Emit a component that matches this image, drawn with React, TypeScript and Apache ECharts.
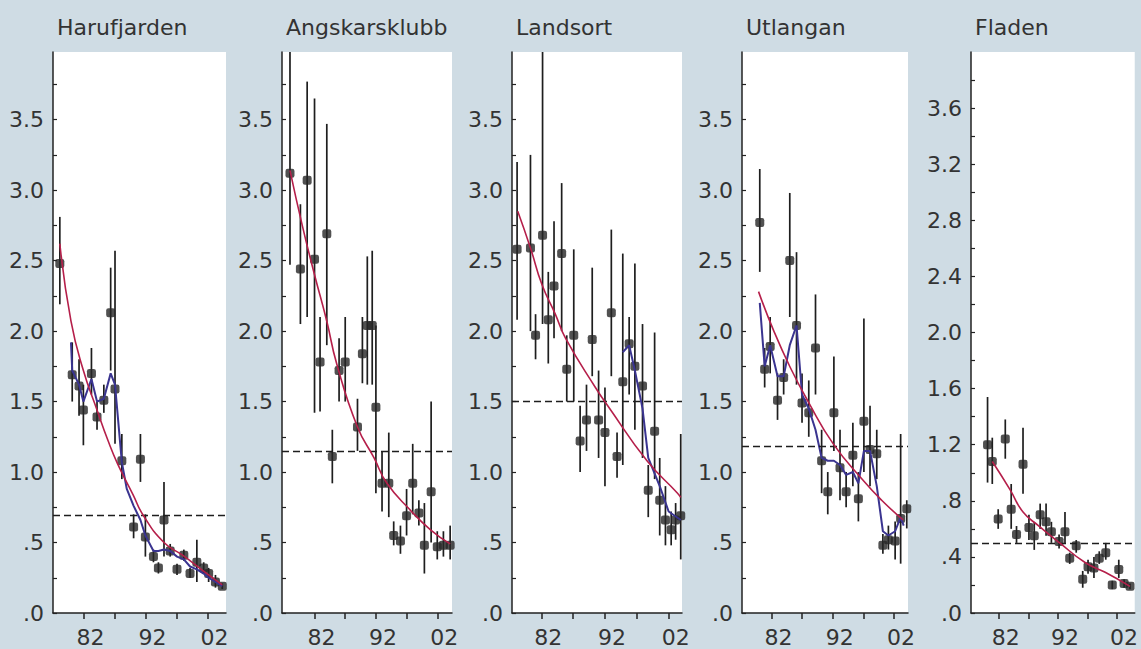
import React, { useEffect, useRef } from "react";
import * as echarts from "echarts";

// ---------- Tick labels ----------
const yTickValsMain = [0, 0.25, 0.5, 0.75, 1, 1.25, 1.5, 1.75, 2, 2.25, 2.5, 2.75, 3, 3.25, 3.5, 3.75];
const yLabelValsMain = [0, 0.5, 1, 1.5, 2, 2.5, 3, 3.5];
const yLabelTextsMain = [".0", ".5", "1.0", "1.5", "2.0", "2.5", "3.0", "3.5"];
const yTickValsFladen = [0, 0.2, 0.4, 0.6, 0.8, 1, 1.2, 1.4, 1.6, 1.8, 2, 2.2, 2.4, 2.6, 2.8, 3, 3.2, 3.4, 3.6, 3.8];
const yLabelValsFladen = [0, 0.4, 0.8, 1.2, 1.6, 2, 2.4, 2.8, 3.2, 3.6];
const yLabelTextsFladen = [".0", ".4", ".8", "1.2", "1.6", "2.0", "2.4", "2.8", "3.2", "3.6"];
const xTickYears = [1982, 1987, 1992, 1997, 2002];
const xLabelYears = [1982, 1992, 2002];
const xLabelTexts = ["82", "92", "02"];

// ---------- Harufjarden ----------
const haruYears = [1978.2, 1980.2, 1981.3, 1982.0, 1983.3, 1984.2, 1985.3, 1986.4, 1987.1, 1988.2, 1990.1, 1991.2, 1992.0, 1993.3, 1994.1, 1995.0, 1996.0, 1997.1, 1998.2, 1999.2, 2000.3, 2001.4, 2002.2, 2003.3, 2004.4];
const haruMean = [2.48, 1.69, 1.61, 1.44, 1.70, 1.39, 1.51, 2.13, 1.59, 1.08, 0.61, 1.09, 0.54, 0.40, 0.32, 0.66, 0.44, 0.31, 0.41, 0.28, 0.36, 0.32, 0.28, 0.22, 0.19];
const haruLow = [2.19, 1.50, 1.40, 1.19, 1.55, 1.30, 1.42, 1.72, 1.20, 0.95, 0.53, 0.93, 0.40, 0.36, 0.28, 0.40, 0.40, 0.27, 0.37, 0.25, 0.22, 0.28, 0.22, 0.18, 0.17];
const haruHigh = [2.81, 1.92, 1.80, 1.62, 1.88, 1.50, 1.62, 2.45, 2.57, 1.27, 0.70, 1.27, 0.70, 0.45, 0.36, 0.93, 0.49, 0.35, 0.45, 0.32, 0.52, 0.36, 0.32, 0.27, 0.21];
const haruTrendYears = [1978.2, 1980, 1982, 1984.2, 1986, 1987.5, 1990, 1991.7, 1995, 1998, 2001, 2004.4];
const haruTrend = [2.62, 2.07, 1.72, 1.44, 1.22, 1.06, 0.84, 0.69, 0.50, 0.41, 0.31, 0.20];
const haruSmoothYears = [1980.0, 1980.2, 1981.3, 1982.0, 1983.3, 1984.2, 1985.3, 1986.4, 1987.1, 1988.2, 1989.0, 1990.1, 1991.2, 1992.0, 1993.3, 1994.1, 1995.0, 1996.0, 1997.1, 1998.2, 1999.2, 2000.3, 2001.4, 2002.2, 2003.3, 2004.4];
const haruSmooth = [1.92, 1.72, 1.62, 1.50, 1.66, 1.50, 1.52, 1.70, 1.62, 1.07, 0.88, 0.76, 0.66, 0.55, 0.44, 0.44, 0.45, 0.44, 0.40, 0.38, 0.33, 0.31, 0.28, 0.25, 0.22, 0.19];
const haruLevel = 0.69;

// ---------- Angskarsklubb ----------
const angsYears = [1978.0, 1979.7, 1980.8, 1982.0, 1982.9, 1984.0, 1984.9, 1986.0, 1987.0, 1989.0, 1989.8, 1990.6, 1991.4, 1992.0, 1993.0, 1994.1, 1994.9, 1996.0, 1997.0, 1998.0, 1999.0, 1999.9, 2001.0, 2002.0, 2003.0, 2004.1];
const angsMean = [3.12, 2.44, 3.07, 2.51, 1.78, 2.69, 1.11, 1.72, 1.78, 1.32, 1.84, 2.04, 2.04, 1.46, 0.92, 0.92, 0.55, 0.51, 0.69, 0.92, 0.71, 0.48, 0.86, 0.47, 0.48, 0.48];
const angsLow = [2.47, 2.05, 2.10, 1.42, 1.43, 1.90, 0.92, 1.50, 1.50, 1.15, 1.63, 1.62, 1.62, 0.85, 0.72, 0.68, 0.48, 0.42, 0.55, 0.70, 0.62, 0.28, 0.50, 0.38, 0.40, 0.38];
const angsHigh = [4.50, 2.90, 3.77, 3.65, 2.10, 3.47, 1.30, 1.95, 2.10, 1.52, 2.10, 2.53, 2.57, 2.04, 1.15, 1.28, 0.65, 0.62, 0.88, 1.20, 0.80, 0.78, 1.50, 0.58, 0.58, 0.62];
const angsTrendYears = [1978.0, 1980, 1982, 1984, 1985.6, 1989, 1991.7, 1993.8, 1997.6, 2000.9, 2004.1];
const angsTrend = [3.14, 2.75, 2.40, 2.07, 1.77, 1.32, 1.10, 0.92, 0.73, 0.59, 0.49];
const angsLevel = 1.15;

// ---------- Landsort ----------
const landYears = [1978.2, 1980.3, 1981.1, 1982.2, 1983.1, 1984.0, 1985.2, 1986.0, 1987.1, 1988.1, 1989.1, 1990.0, 1991.0, 1992.0, 1993.0, 1993.9, 1994.8, 1995.8, 1996.7, 1997.9, 1998.8, 1999.8, 2000.6, 2001.5, 2002.4, 2003.1, 2003.9];
const landMean = [2.58, 2.59, 1.97, 2.68, 2.08, 2.32, 2.55, 1.73, 1.97, 1.22, 1.37, 1.94, 1.37, 1.28, 2.13, 1.11, 1.64, 1.91, 1.75, 1.61, 0.87, 1.29, 0.80, 0.66, 0.59, 0.66, 0.69];
const landLow = [2.08, 2.00, 1.80, 2.05, 1.77, 1.95, 2.00, 1.50, 1.50, 1.00, 1.15, 1.68, 1.10, 0.90, 1.68, 0.96, 1.05, 1.55, 1.30, 1.10, 0.68, 0.95, 0.55, 0.48, 0.48, 0.52, 0.38];
const landHigh = [3.20, 3.25, 2.12, 4.50, 2.42, 2.78, 3.05, 1.97, 2.58, 1.47, 1.62, 2.45, 1.72, 1.60, 2.72, 1.28, 2.55, 2.10, 2.48, 2.05, 1.05, 1.99, 1.10, 0.90, 0.72, 0.78, 1.27];
const landTrendYears = [1978.3, 1980.3, 1982.1, 1984.2, 1985.8, 1990.5, 1992.6, 1998.6, 2003.4, 2003.9];
const landTrend = [2.85, 2.59, 2.33, 2.12, 1.95, 1.60, 1.46, 1.08, 0.85, 0.82];
const landSmoothYears = [1994.8, 1995.8, 1996.7, 1997.9, 1998.8, 2000.6, 2002.0, 2003.9];
const landSmooth = [1.85, 1.90, 1.72, 1.45, 1.10, 0.90, 0.72, 0.66];
const landLevel = 1.5;

// ---------- Utlangan ----------
const utlaYears = [1980.1, 1980.9, 1981.8, 1983.0, 1984.0, 1985.0, 1986.1, 1987.0, 1988.1, 1989.2, 1990.2, 1991.2, 1992.2, 1993.2, 1994.2, 1995.3, 1996.2, 1997.1, 1998.1, 1999.2, 2000.2, 2001.1, 2002.2, 2003.1, 2004.1];
const utlaMean = [2.77, 1.73, 1.89, 1.51, 1.67, 2.50, 2.04, 1.49, 1.42, 1.88, 1.08, 0.86, 1.42, 1.03, 0.86, 1.12, 0.81, 1.36, 1.16, 1.13, 0.48, 0.52, 0.51, 0.67, 0.74];
const utlaLow = [2.42, 1.60, 1.70, 1.37, 1.55, 2.10, 1.62, 1.35, 1.25, 1.55, 0.85, 0.70, 1.15, 0.80, 0.75, 0.90, 0.65, 1.00, 0.90, 0.95, 0.42, 0.45, 0.38, 0.35, 0.60];
const utlaHigh = [3.15, 1.88, 2.10, 1.70, 1.80, 2.98, 2.56, 1.70, 1.65, 2.26, 1.30, 1.00, 1.82, 1.30, 1.00, 1.35, 1.00, 2.09, 1.47, 1.30, 0.56, 0.62, 0.65, 1.27, 0.80];
const utlaTrendYears = [1979.9, 1982.4, 1985.1, 1988.0, 1992.1, 1997.0, 2000.0, 2003.5];
const utlaTrend = [2.28, 2.00, 1.74, 1.50, 1.20, 0.94, 0.80, 0.66];
const utlaSmoothYears = [1980.1, 1980.9, 1981.8, 1983.0, 1984.0, 1985.0, 1986.1, 1987.0, 1988.1, 1989.2, 1990.2, 1991.2, 1992.2, 1993.2, 1994.2, 1995.3, 1996.2, 1997.1, 1998.1, 1999.2, 2000.2, 2001.1, 2002.2, 2003.1, 2003.6];
const utlaSmooth = [2.20, 1.75, 1.90, 1.68, 1.68, 1.90, 2.04, 1.55, 1.45, 1.30, 1.10, 1.08, 1.08, 1.05, 0.98, 1.00, 0.92, 1.15, 1.15, 0.90, 0.58, 0.55, 0.58, 0.68, 0.62];
const utlaLevel = 1.18;

// ---------- Fladen ----------
const fladYears = [1980.1, 1980.9, 1981.9, 1983.1, 1984.1, 1985.0, 1986.1, 1987.1, 1988.0, 1989.0, 1990.0, 1990.9, 1992.2, 1993.2, 1994.0, 1995.1, 1996.2, 1997.1, 1998.1, 1999.0, 2000.1, 2001.2, 2002.3, 2003.2, 2004.2];
const fladMean = [1.20, 1.08, 0.67, 1.24, 0.74, 0.56, 1.06, 0.61, 0.55, 0.70, 0.65, 0.58, 0.51, 0.58, 0.39, 0.48, 0.24, 0.33, 0.32, 0.39, 0.43, 0.20, 0.31, 0.21, 0.19];
const fladLow = [0.93, 0.92, 0.60, 1.10, 0.60, 0.50, 0.85, 0.52, 0.45, 0.60, 0.55, 0.50, 0.46, 0.50, 0.35, 0.43, 0.18, 0.28, 0.25, 0.35, 0.38, 0.17, 0.25, 0.18, 0.17];
const fladHigh = [1.54, 1.25, 0.74, 1.38, 0.92, 0.62, 1.32, 0.70, 0.65, 0.78, 0.78, 0.65, 0.56, 0.72, 0.43, 0.52, 0.30, 0.38, 0.40, 0.44, 0.50, 0.23, 0.38, 0.24, 0.21];
const fladTrendYears = [1980.9, 1983.9, 1986.1, 1988.8, 1992.3, 1996.6, 2000.0, 2004.2];
const fladTrend = [1.08, 0.88, 0.72, 0.62, 0.50, 0.36, 0.29, 0.19];
const fladLevel = 0.5;

// ---------- Styling ----------
const BG = "#cfdce4";
const TEXT = "#333";
const AXIS = "#222";
const RED = "#b51f4a";
const BLUE = "#3a3490";
const FONT = "'DejaVu Sans', 'Liberation Sans', Arial, sans-serif";

type Panel = {
  title: string;
  left: number;
  width: number;
  xMin: number;
  xMax: number;
  yMax: number;
  yTicks: number[];
  yLabelVals: number[];
  yLabelTexts: string[];
  years: number[];
  mean: number[];
  low: number[];
  high: number[];
  trendX: number[];
  trend: number[];
  smoothX?: number[];
  smooth?: number[];
  level: number;
};

const panels: Panel[] = [
  { title: "Harufjarden", left: 53, width: 173, xMin: 1977.1, xMax: 2005.0, yMax: 3.98, yTicks: yTickValsMain, yLabelVals: yLabelValsMain, yLabelTexts: yLabelTextsMain, years: haruYears, mean: haruMean, low: haruLow, high: haruHigh, trendX: haruTrendYears, trend: haruTrend, smoothX: haruSmoothYears, smooth: haruSmooth, level: haruLevel },
  { title: "Angskarsklubb", left: 282, width: 170, xMin: 1976.7, xMax: 2004.4, yMax: 3.98, yTicks: yTickValsMain, yLabelVals: yLabelValsMain, yLabelTexts: yLabelTextsMain, years: angsYears, mean: angsMean, low: angsLow, high: angsHigh, trendX: angsTrendYears, trend: angsTrend, level: angsLevel },
  { title: "Landsort", left: 512, width: 170, xMin: 1977.4, xMax: 2004.1, yMax: 3.98, yTicks: yTickValsMain, yLabelVals: yLabelValsMain, yLabelTexts: yLabelTextsMain, years: landYears, mean: landMean, low: landLow, high: landHigh, trendX: landTrendYears, trend: landTrend, smoothX: landSmoothYears, smooth: landSmooth, level: landLevel },
  { title: "Utlangan", left: 742, width: 166, xMin: 1977.2, xMax: 2004.3, yMax: 3.98, yTicks: yTickValsMain, yLabelVals: yLabelValsMain, yLabelTexts: yLabelTextsMain, years: utlaYears, mean: utlaMean, low: utlaLow, high: utlaHigh, trendX: utlaTrendYears, trend: utlaTrend, smoothX: utlaSmoothYears, smooth: utlaSmooth, level: utlaLevel },
  { title: "Fladen", left: 971, width: 172, xMin: 1977.3, xMax: 2005.0, yMax: 4.0, yTicks: yTickValsFladen, yLabelVals: yLabelValsFladen, yLabelTexts: yLabelTextsFladen, years: fladYears, mean: fladMean, low: fladLow, high: fladHigh, trendX: fladTrendYears, trend: fladTrend, level: fladLevel },
];

const W = 1141;
const H = 649;
const GRID_TOP = 52;
const GRID_BOTTOM = 36;

function buildOption() {
  const grid: any[] = [];
  const xAxis: any[] = [];
  const yAxis: any[] = [];
  const series: any[] = [];
  const title: any[] = [];

  panels.forEach((p, i) => {
    grid.push({
      left: p.left,
      width: p.width,
      top: GRID_TOP,
      bottom: GRID_BOTTOM,
      show: true,
      backgroundColor: "#ffffff",
      borderWidth: 0,
      containLabel: false,
    });
    title.push({
      text: p.title,
      left: p.left + 4,
      top: 16,
      padding: 0,
      textStyle: { fontSize: 22, fontWeight: "normal", color: TEXT, fontFamily: FONT },
    });
    xAxis.push({
      type: "value",
      gridIndex: i,
      min: p.xMin,
      max: p.xMax,
      splitLine: { show: false },
      axisLine: { show: true, onZero: false, lineStyle: { color: AXIS, width: 1.5 } },
      axisTick: { show: true, inside: false, length: 6, customValues: xTickYears, lineStyle: { color: AXIS, width: 1.5 } },
      axisLabel: {
        show: true,
        customValues: xLabelYears,
        formatter: (v: number) => {
          const k = xLabelYears.findIndex((a) => Math.abs(a - v) < 1e-6);
          return k >= 0 ? xLabelTexts[k] : "";
        },
        margin: 13,
        padding: [0, 0, 0, 14],
        fontSize: 22,
        color: TEXT,
        fontFamily: FONT,
      },
    });
    yAxis.push({
      type: "value",
      gridIndex: i,
      min: 0,
      max: p.yMax,
      splitLine: { show: false },
      axisLine: { show: true, onZero: false, lineStyle: { color: AXIS, width: 1.5 } },
      axisTick: { show: true, inside: true, length: 4, customValues: p.yTicks, lineStyle: { color: AXIS, width: 1.2 } },
      axisLabel: {
        show: true,
        customValues: p.yLabelVals,
        formatter: (v: number) => {
          const k = p.yLabelVals.findIndex((a) => Math.abs(a - v) < 1e-6);
          return k >= 0 ? p.yLabelTexts[k] : "";
        },
        margin: 9,
        fontSize: 22,
        color: TEXT,
        fontFamily: FONT,
      },
    });

    const yMax = p.yMax;
    // error bars
    series.push({
      type: "custom",
      name: p.title + " CI",
      xAxisIndex: i,
      yAxisIndex: i,
      clip: true,
      silent: true,
      z: 2,
      data: p.years.map((y, k) => [y, p.low[k], p.high[k]]),
      encode: { x: 0, y: [1, 2] },
      renderItem: (params: any, api: any) => {
        const x = api.value(0);
        const lo = api.value(1);
        const hi = Math.min(api.value(2), yMax);
        const a = api.coord([x, lo]);
        const b = api.coord([x, hi]);
        return {
          type: "line",
          shape: { x1: a[0], y1: a[1], x2: b[0], y2: b[1] },
          style: { stroke: "#1e1e1e", lineWidth: 1.7 },
        };
      },
    });
    // points + dashed level
    series.push({
      type: "scatter",
      name: p.title,
      xAxisIndex: i,
      yAxisIndex: i,
      symbol: "roundRect",
      symbolSize: 9,
      itemStyle: { color: "#262626" },
      z: 3,
      data: p.years.map((y, k) => [y, p.mean[k]]),
      markLine: {
        silent: true,
        symbol: "none",
        label: { show: false },
        lineStyle: { type: [7, 4], color: "#1e1e1e", width: 1.4 },
        data: [{ yAxis: p.level }],
      },
    });
    if (p.smoothX && p.smooth) {
      series.push({
        type: "line",
        name: p.title + " smooth",
        xAxisIndex: i,
        yAxisIndex: i,
        symbol: "none",
        smooth: false,
        z: 4,
        lineStyle: { color: BLUE, width: 2 },
        data: p.smoothX.map((y, k) => [y, p.smooth![k]]),
      });
    }
    series.push({
      type: "line",
      name: p.title + " trend",
      xAxisIndex: i,
      yAxisIndex: i,
      symbol: "none",
      smooth: true,
      z: 5,
      lineStyle: { color: RED, width: 1.6 },
      data: p.trendX.map((y, k) => [y, p.trend[k]]),
    });
  });

  return {
    animation: false,
    backgroundColor: BG,
    textStyle: { fontFamily: FONT },
    title,
    grid,
    xAxis,
    yAxis,
    series,
  };
}

export default function App() {
  const ref = useRef<HTMLDivElement>(null);
  useEffect(() => {
    if (!ref.current) return;
    const chart = echarts.init(ref.current, undefined, { renderer: "svg", width: W, height: H });
    chart.setOption(buildOption() as any);
    return () => chart.dispose();
  }, []);
  return (
    <div
      ref={ref}
      style={{ position: "absolute", left: 0, top: 0, width: W, height: H }}
    />
  );
}
